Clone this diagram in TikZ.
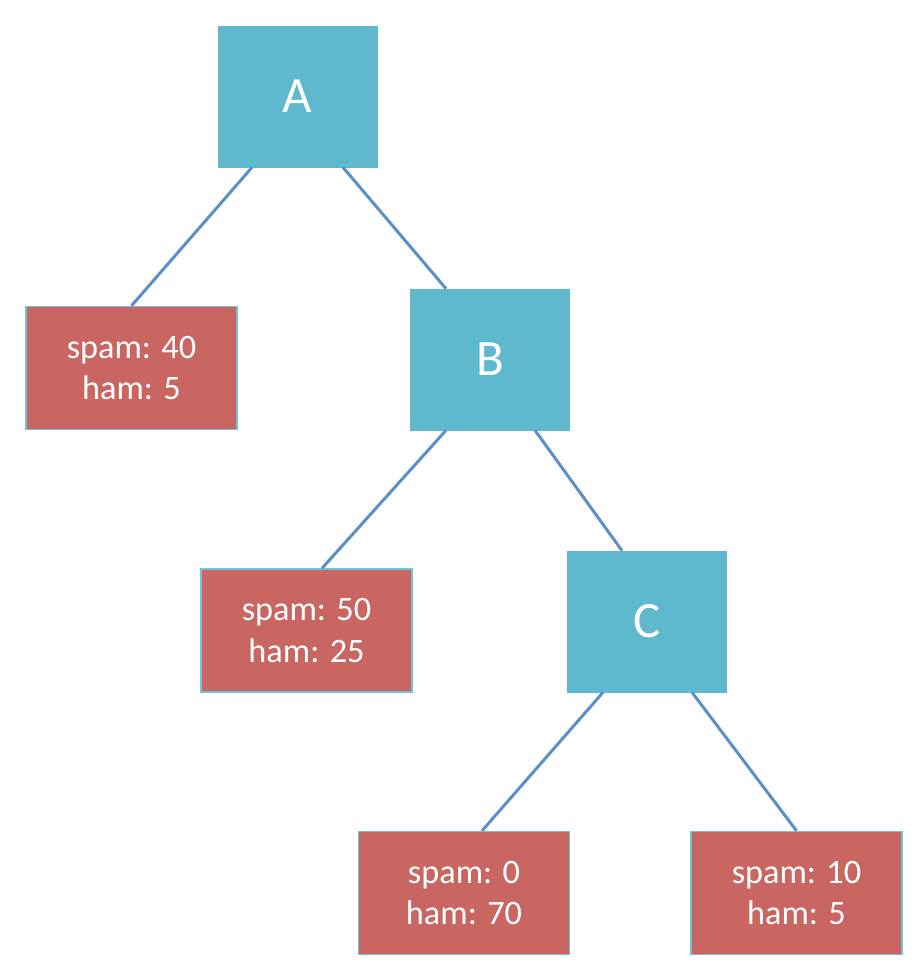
\documentclass[tikz,border=0pt]{standalone}
\usepackage{fontspec}
\setmainfont{Carlito}
\usepackage{tikz}
\usetikzlibrary{positioning}
\definecolor{splitblue}{HTML}{5EB9CF}
\definecolor{leafred}{HTML}{C96661}
\definecolor{leafline}{HTML}{6FC3D6}
\definecolor{edgeblue}{HTML}{5B8FC8}
\tikzset{
    splitnode/.style = {rectangle, draw=splitblue, fill=splitblue, text=white, minimum width=3.18cm, minimum height=2.82cm, font=\fontsize{29}{34}\selectfont},
    leafnode/.style = {rectangle, draw=leafline, line width=0.8pt, fill=leafred, text=white, align=center, minimum width=4.22cm, minimum height=2.46cm, font=\fontsize{19.5}{23.6}\selectfont},
    edgen/.style = {draw=edgeblue, line width=1.7pt}
}
\begin{document}
\begin{tikzpicture}
  \useasboundingbox (0,0) rectangle (18.32,-19.6);
  \node[splitnode] at (5.95,-1.93) (a) {A};
  \node[leafnode] at (2.63,-7.36) (l1) {spam: 40\\ham: 5};
  \node[splitnode] at (9.80,-7.19) (b) {B};
  \node[leafnode] at (6.13,-12.61) (l2) {spam: 50\\ham: 25};
  \node[splitnode] at (12.94,-12.43) (c) {C};
  \node[leafnode] at (9.28,-17.86) (l3) {spam: 0\\ham: 70};
  \node[leafnode] at (15.93,-17.86) (l4) {spam: 10\\ham: 5};

  \draw[edgen] ([xshift=-0.91cm]a.south) -- (l1.north);
  \draw[edgen] ([xshift=0.91cm]a.south) -- ([xshift=-0.88cm]b.north);
  \draw[edgen] ([xshift=-0.88cm]b.south) -- ([xshift=0.31cm]l2.north);
  \draw[edgen] ([xshift=0.9cm]b.south) -- ([xshift=-0.5cm]c.north);
  \draw[edgen] ([xshift=-0.88cm]c.south) -- ([xshift=0.36cm]l3.north);
  \draw[edgen] ([xshift=0.9cm]c.south) -- (l4.north);
\end{tikzpicture}
\end{document}
